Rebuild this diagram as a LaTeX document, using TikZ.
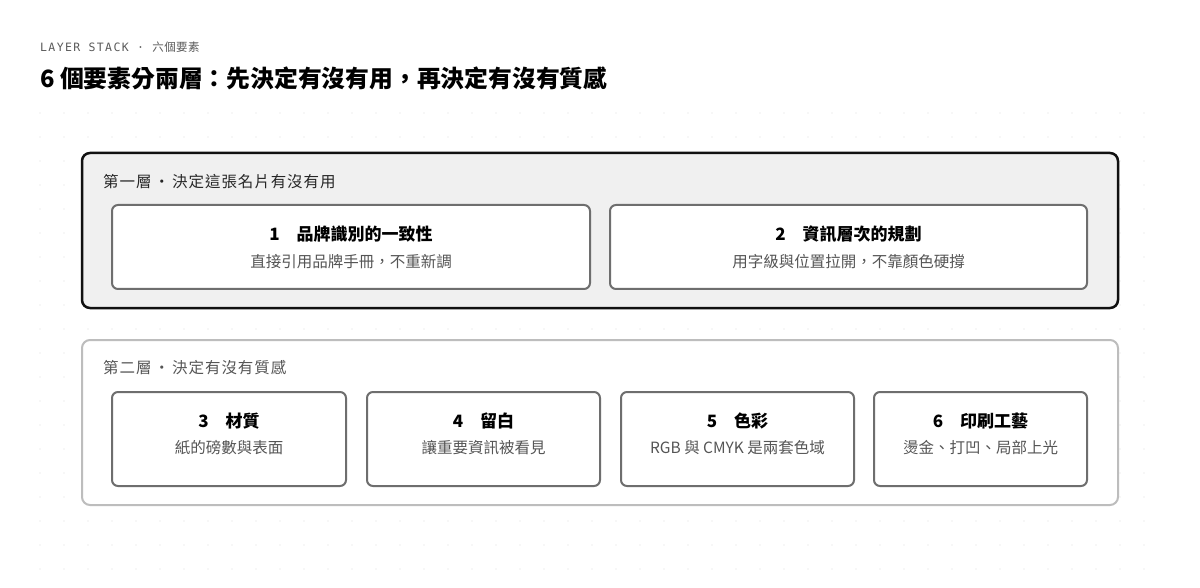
\documentclass[tikz,border=0pt]{standalone}
\usepackage{fontspec}
\setmainfont{Noto Sans CJK TC}
\newfontfamily\stackmono[LetterSpace=12]{DejaVu Sans Mono}
\newfontfamily\stackcjk[LetterSpace=4]{Noto Sans CJK TC}
\newfontfamily\layerfont[LetterSpace=6]{Noto Sans CJK TC}
\definecolor{dotgray}{HTML}{EFEFEF}
\definecolor{layerfill}{HTML}{F0F0F0}
\definecolor{layerink}{HTML}{111111}
\definecolor{softline}{HTML}{BDBDBD}
\definecolor{cardline}{HTML}{6E6E6E}
\definecolor{notegray}{HTML}{555555}
\definecolor{kickergray}{HTML}{5A5A5A}
\begin{document}
\begin{tikzpicture}[x=1pt, y=-1pt,
    layerbox/.style={rectangle, rounded corners=8pt, inner sep=0pt, outer sep=0pt, minimum width=1036pt},
    cardbox/.style={rectangle, draw=cardline, line width=2pt, fill=white, rounded corners=6pt, inner sep=0pt, outer sep=0pt},
    cardtitle/.style={inner sep=0pt, font=\bfseries\fontsize{17}{20}\selectfont},
    cardnote/.style={inner sep=0pt, text=notegray, font=\fontsize{15.5}{18}\selectfont},
    layerlabel/.style={anchor=west, inner sep=0pt, font=\layerfont\fontsize{15.5}{18}\selectfont},
]
\fill[white] (0,0) rectangle (1200,588);
\useasboundingbox (0,0) rectangle (1200,588);
% dot grid
\foreach \gx in {0,...,46}
  \foreach \gy in {0,...,19}
    \fill[dotgray] ({40+24*\gx},{113+24*\gy}) circle (0.9);
% heading
\node[anchor=west, inner sep=0pt, text=kickergray] (kicker) at (40,47) {\fontsize{11.5}{14}\selectfont{\stackmono LAYER STACK · }{\stackcjk 六個要素}};
\node[anchor=west, inner sep=0pt, font=\bfseries\fontsize{23.8}{28}\selectfont] (headline) at (40,78) {6 個要素分兩層：先決定有沒有用，再決定有沒有質感};
% layer one
\node[layerbox, draw=layerink, line width=2.5pt, fill=layerfill, minimum height=155pt] (layer1) at (600,230.5) {};
\node[layerlabel, text=black!85] (label1) at (103,182) {第一層\,·\,決定這張名片有沒有用};
\node[cardbox, minimum width=478pt, minimum height=84pt] (card1) at (351,247) {};
\node[cardbox, minimum width=477pt, minimum height=84pt] (card2) at (848.5,247) {};
\node[cardtitle] (title1) at (351,234) {1\hspace{1em}品牌識別的一致性};
\node[cardnote] (note1) at (351,262) {直接引用品牌手冊，不重新調};
\node[cardtitle] (title2) at (848.5,234) {2\hspace{1em}資訊層次的規劃};
\node[cardnote] (note2) at (848.5,262) {用字級與位置拉開，不靠顏色硬撐};
% layer two
\node[layerbox, draw=softline, line width=2pt, fill=white, minimum height=165pt] (layer2) at (600,422.5) {};
\node[layerlabel, text=notegray] (label2) at (103,368) {第二層\,·\,決定有沒有質感};
\node[cardbox, minimum width=234pt, minimum height=94pt] (card3) at (229,439) {};
\node[cardbox, minimum width=233pt, minimum height=94pt] (card4) at (483.5,439) {};
\node[cardbox, minimum width=233pt, minimum height=94pt] (card5) at (737.5,439) {};
\node[cardbox, minimum width=213pt, minimum height=94pt] (card6) at (980.5,439) {};
\node[cardtitle] (title3) at (229,421) {3\hspace{1em}材質};
\node[cardnote] (note3) at (229,448) {紙的磅數與表面};
\node[cardtitle] (title4) at (483.5,421) {4\hspace{1em}留白};
\node[cardnote] (note4) at (483.5,448) {讓重要資訊被看見};
\node[cardtitle] (title5) at (737.5,421) {5\hspace{1em}色彩};
\node[cardnote] (note5) at (737.5,448) {RGB 與 CMYK 是兩套色域};
\node[cardtitle] (title6) at (980.5,421) {6\hspace{1em}印刷工藝};
\node[cardnote] (note6) at (980.5,448) {燙金、打凹、局部上光};
\end{tikzpicture}
\end{document}
